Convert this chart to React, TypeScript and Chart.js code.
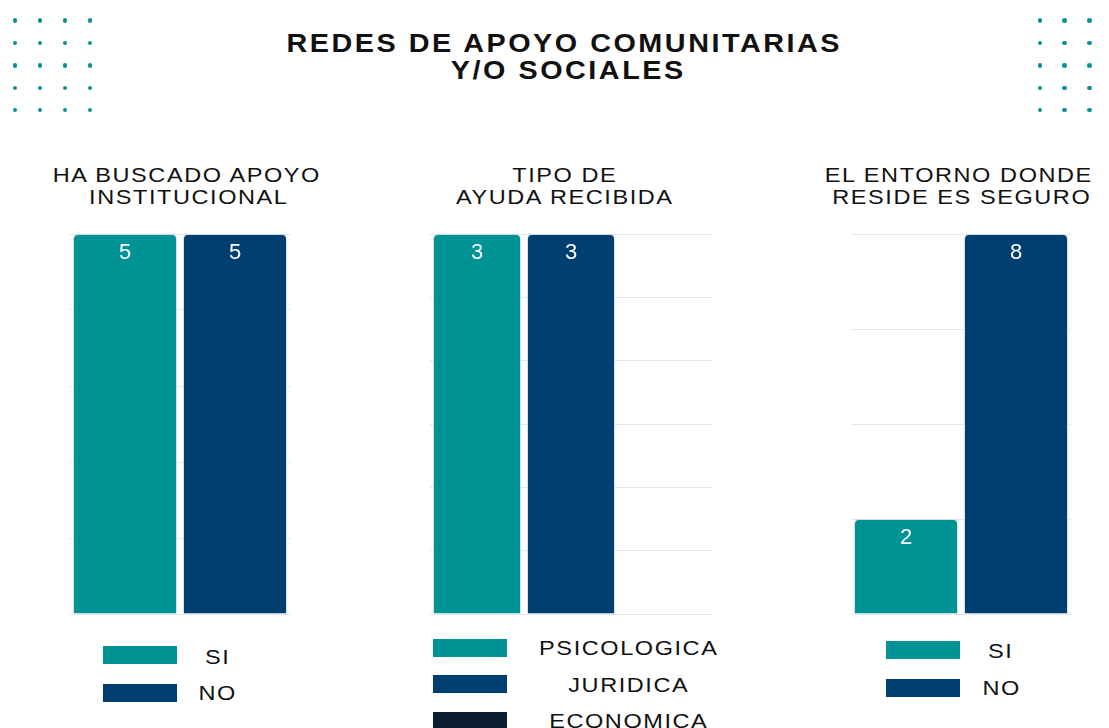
import React, { useEffect, useRef } from "react";
import { Chart, registerables } from "chart.js";

Chart.register(...registerables);

// ---- data ----
const mainTitle = ["REDES DE APOYO COMUNITARIAS", "Y/O SOCIALES"];

const chart1Title = ["HA BUSCADO APOYO", "INSTITUCIONAL"];
const chart1Labels = ["SI", "NO"];
const chart1Values = [5, 5];

const chart2Title = ["TIPO DE", "AYUDA RECIBIDA"];
const chart2Labels = ["PSICOLOGICA", "JURIDICA", "ECONOMICA"];
const chart2Values = [3, 3, 0];

const chart3Title = ["EL ENTORNO DONDE", "RESIDE ES SEGURO"];
const chart3Labels = ["SI", "NO"];
const chart3Values = [2, 8];

const axisMax = [5, 3, 8];
const axisStep = [1, 0.5, 2];

// ---- styles ----
const TEAL = "#009396";
const NAVY = "#003f6f";
const DARK = "#0b1f30";
const colors2 = [TEAL, NAVY];
const colors3 = [TEAL, NAVY, DARK];
const FONT = "'Liberation Sans', Arial, sans-serif";

const valueLabelPlugin = {
  id: "valueLabels",
  afterDatasetsDraw(chart: any) {
    const ctx = chart.ctx;
    ctx.save();
    ctx.fillStyle = "#ffffff";
    ctx.font = `22px ${FONT}`;
    ctx.textAlign = "center";
    ctx.textBaseline = "middle";
    chart.data.datasets.forEach((ds: any, di: number) => {
      const meta = chart.getDatasetMeta(di);
      meta.data.forEach((bar: any, i: number) => {
        const v = ds.data[i];
        if (!v) return;
        ctx.fillText(String(v), bar.x, bar.y + 19);
      });
    });
    ctx.restore();
  },
};

type BarProps = {
  left: number;
  top: number;
  width: number;
  height: number;
  labels: string[];
  values: number[];
  colors: string[];
  max: number;
  step: number;
  barPct: number;
};

const PAD = 8;

function BarChart(p: BarProps) {
  const ref = useRef<HTMLCanvasElement | null>(null);
  useEffect(() => {
    if (!ref.current) return;
    const chart = new Chart(ref.current, {
      type: "bar",
      data: {
        labels: p.labels,
        datasets: [
          {
            data: p.values,
            backgroundColor: p.colors,
            borderColor: "rgba(200,215,228,0.8)",
            borderWidth: 1,
            borderRadius: 5,
            barPercentage: p.barPct,
            categoryPercentage: 1,
          },
        ],
      },
      options: {
        responsive: false,
        maintainAspectRatio: false,
        animation: false,
        layout: { padding: PAD },
        plugins: {
          legend: { display: false },
          title: { display: false },
          tooltip: { enabled: false },
        },
        scales: {
          x: { display: false },
          y: {
            display: true,
            min: 0,
            max: p.max,
            ticks: { display: false, stepSize: p.step },
            grid: { color: "#e3e6ea", lineWidth: 1, drawTicks: false },
            border: { display: false },
          },
        },
      },
      plugins: [valueLabelPlugin],
    });
    return () => chart.destroy();
  }, []);
  return (
    <canvas
      ref={ref}
      width={p.width + PAD * 2}
      height={p.height + PAD * 2}
      style={{
        position: "absolute",
        left: p.left - PAD,
        top: p.top - PAD,
        width: p.width + PAD * 2,
        height: p.height + PAD * 2,
      }}
    />
  );
}

function Text(props: {
  cx: number;
  cy: number;
  text: string;
  size: number;
  bold?: boolean;
  ls: number;
  sx: number;
}) {
  return (
    <div
      style={{
        position: "absolute",
        left: props.cx,
        top: props.cy,
        transform: `translate(-50%, -50%) scaleX(${props.sx})`,
        whiteSpace: "nowrap",
        fontFamily: FONT,
        fontSize: props.size,
        fontWeight: props.bold ? 700 : 400,
        letterSpacing: props.ls,
        paddingLeft: props.ls,
        lineHeight: 1,
        color: "#111111",
      }}
    >
      {props.text}
    </div>
  );
}

function Swatch(props: { x: number; y: number; color: string }) {
  return (
    <div
      style={{
        position: "absolute",
        left: props.x,
        top: props.y,
        width: 74,
        height: 18,
        background: props.color,
      }}
    />
  );
}

function Dots(props: { xs: number[]; ys: number[] }) {
  const out: any[] = [];
  props.xs.forEach((x) =>
    props.ys.forEach((y) =>
      out.push(
        <div
          key={`${x}-${y}`}
          style={{
            position: "absolute",
            left: x - 2.3,
            top: y - 2.3,
            width: 4.6,
            height: 4.6,
            borderRadius: "50%",
            background: "#0b9196",
          }}
        />
      )
    )
  );
  return <>{out}</>;
}

const TS = 1.12; // horizontal stretch of body text
const TL = 1.4;

export default function App() {
  const rowsY = [20.5, 43, 65.5, 88, 110];
  return (
    <div
      style={{
        position: "absolute",
        left: 0,
        top: 0,
        width: 1109,
        height: 728,
        overflow: "hidden",
        background: "#ffffff",
      }}
    >
      <Dots xs={[15, 40, 65, 90]} ys={rowsY} />
      <Dots xs={[1040, 1064.7, 1089.3]} ys={rowsY} />

      <Text cx={563} cy={43} text={mainTitle[0]} size={25} bold ls={2.2} sx={1.15} />
      <Text cx={567} cy={70} text={mainTitle[1]} size={25} bold ls={2.2} sx={1.15} />

      <Text cx={186} cy={174} text={chart1Title[0]} size={21} ls={TL} sx={TS} />
      <Text cx={188} cy={196} text={chart1Title[1]} size={21} ls={TL} sx={TS} />
      <Text cx={564} cy={174} text={chart2Title[0]} size={21} ls={TL} sx={TS} />
      <Text cx={564} cy={196} text={chart2Title[1]} size={21} ls={TL} sx={TS} />
      <Text cx={958} cy={174} text={chart3Title[0]} size={21} ls={TL} sx={TS} />
      <Text cx={961} cy={196} text={chart3Title[1]} size={21} ls={TL} sx={TS} />

      <BarChart
        left={70}
        top={234}
        width={220}
        height={380}
        labels={chart1Labels}
        values={chart1Values}
        colors={colors2}
        max={axisMax[0]}
        step={axisStep[0]}
        barPct={104 / 110}
      />
      <BarChart
        left={430}
        top={234}
        width={282}
        height={380}
        labels={chart2Labels}
        values={chart2Values}
        colors={colors3}
        max={axisMax[1]}
        step={axisStep[1]}
        barPct={88 / 94}
      />
      <BarChart
        left={851}
        top={234}
        width={220}
        height={380}
        labels={chart3Labels}
        values={chart3Values}
        colors={colors2}
        max={axisMax[2]}
        step={axisStep[2]}
        barPct={104 / 110}
      />

      {/* legend 1 */}
      <Swatch x={103} y={646} color={colors2[0]} />
      <Text cx={217} cy={656} text={chart1Labels[0]} size={21} ls={TL} sx={TS} />
      <Swatch x={103} y={684} color={colors2[1]} />
      <Text cx={217} cy={692} text={chart1Labels[1]} size={21} ls={TL} sx={TS} />

      {/* legend 2 */}
      <Swatch x={433} y={639} color={colors3[0]} />
      <Text cx={628} cy={647} text={chart2Labels[0]} size={21} ls={TL} sx={TS} />
      <Swatch x={433} y={675} color={colors3[1]} />
      <Text cx={628} cy={684} text={chart2Labels[1]} size={21} ls={TL} sx={TS} />
      <Swatch x={433} y={712} color={colors3[2]} />
      <Text cx={628} cy={720} text={chart2Labels[2]} size={21} ls={TL} sx={TS} />

      {/* legend 3 */}
      <Swatch x={886} y={641} color={colors2[0]} />
      <Text cx={1000} cy={650} text={chart3Labels[0]} size={21} ls={TL} sx={TS} />
      <Swatch x={886} y={679} color={colors2[1]} />
      <Text cx={1001} cy={687} text={chart3Labels[1]} size={21} ls={TL} sx={TS} />
    </div>
  );
}
